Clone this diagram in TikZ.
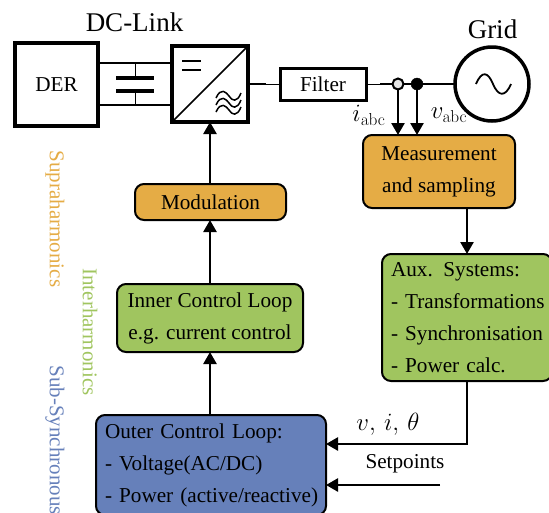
\documentclass[tikz,border=0pt]{standalone}
\usepackage[no-math]{fontspec}
\setmainfont{Liberation Serif}
\DeclareMathSizes{20}{24.88}{17.28}{12}
\usetikzlibrary{arrows.meta,calc}
\definecolor{orangebox}{HTML}{E5AC45}
\definecolor{greenbox}{HTML}{A0C55F}
\definecolor{bluebox}{HTML}{6680BA}
\tikzset{
  x=1pt,y=-1pt,
  heavybox/.style={draw,line width=#1,fill=white,inner sep=0pt,outer sep=0pt},
  block/.style={draw,line width=2pt,rounded corners=9pt,inner sep=0pt,outer sep=0pt},
  wire/.style={line width=2.3pt},
  thinwire/.style={line width=1pt},
  flow/.style={line width=2.5pt,-{Triangle[length=12pt,width=13pt]}},
  boxtext/.style={font=\fontsize{21.2}{32}\selectfont},
  plaintext/.style={font=\fontsize{21.2}{24}\selectfont},
  mathtext/.style={font=\fontsize{20}{24}\selectfont},
  sidelabel/.style={rotate=-90,font=\fontsize{21}{24}\selectfont},
}
\begin{document}
\begin{tikzpicture}
\useasboundingbox (0,0) rectangle (549,512);
\clip (0,0) rectangle (549,512);
% power stage
\node[heavybox=3.6pt,minimum width=83pt,minimum height=83pt,plaintext] (der) at (56.5,84.5) {DER};
\node[heavybox=3.4pt,minimum width=76pt,minimum height=76pt] (conv) at (210,84) {};
\node[heavybox=3pt,minimum width=86pt,minimum height=32pt,plaintext] (filter) at (323,84) {Filter};
\node[draw,circle,line width=3.5pt,minimum size=74pt,inner sep=0pt,outer sep=0pt,fill=white] (grid) at (492,84) {};
\node[font=\fontsize{27}{30}\selectfont] (dclabel) at (134.5,22) {DC-Link};
\node[font=\fontsize{27}{30}\selectfont] (gridlabel) at (492.5,29) {Grid};
% dc link
\coordinate (dctop) at (135,63);
\coordinate (dcbot) at (135,105);
\coordinate (plateA) at (135,78);
\coordinate (plateB) at (135,91);
\draw[wire] (der.east |- dctop) -- (conv.west |- dctop);
\draw[wire] (der.east |- dcbot) -- (conv.west |- dcbot);
\draw[thinwire] (dctop) -- (plateA);
\draw[thinwire] (dcbot) -- (plateB);
\draw[line width=3.5pt] ($(plateA)+(-19,0)$) -- ($(plateA)+(19,0)$);
\draw[line width=3.5pt] ($(plateB)+(-19,0)$) -- ($(plateB)+(19,0)$);
% converter symbol
\draw[line width=1.7pt] (conv.south west) -- (conv.north east);
\draw[line width=2pt] (182,61) -- (201,61);
\draw[line width=2pt] (182,70) -- (201,70);
\foreach \yy in {98,105,112}{
  \draw[line width=1.5pt] (216,\yy) .. controls (221,\yy-11) and (226,\yy-6) .. (229,\yy-2) .. controls (232,\yy+3) and (237,\yy+5) .. (241,\yy-5);
}
% ac side
\coordinate (nodeI) at (398,84);
\coordinate (nodeV) at (417,84);
\draw[wire] (conv.east) -- (266,84);
\draw[thinwire] (266,84) -- (filter.west);
\draw[thinwire] (filter.east) -- (380,84);
\draw[wire] (380,84) -- (grid.west);
\draw[line width=1.8pt] (476,84) .. controls (482,70) and (488,72) .. (493,84) .. controls (498,96) and (505,98) .. (511,84);
% blocks
\node[block,fill=orangebox,minimum width=152pt,minimum height=73pt,align=center,boxtext] (meas) at (439,171.5) {Measurement\\and sampling};
\node[block,fill=orangebox,minimum width=151pt,minimum height=36pt,boxtext] (mod) at (210.5,202) {Modulation};
\node[block,fill=greenbox,minimum width=186pt,minimum height=68pt,align=center,boxtext] (inner) at (210,318) {Inner Control Loop\\e.g. current control};
\node[block,fill=greenbox,minimum width=170pt,minimum height=127pt,align=left,boxtext,text width=152pt] (aux) at (467,317.5) {\mbox{Aux. Systems:}\\\mbox{- Transformations}\\\mbox{- Synchronisation}\\\mbox{- Power calc.}};
\node[block,fill=bluebox,minimum width=230pt,minimum height=100pt,align=left,boxtext,text width=212pt] (outer) at (211,465) {\mbox{Outer Control Loop:}\\\mbox{- Voltage(AC/DC)}\\\mbox{- Power (active/reactive)}};
% flows
\draw[flow] (mod.north -| conv.south) -- (conv.south);
\draw[flow] (inner.north) -- (mod.south -| inner.north);
\draw[flow] (outer.north -| inner.south) -- (inner.south);
\draw[flow] (meas.south -| aux.north) -- (aux.north);
\coordinate (fbk) at (467,444);
\draw[flow] (aux.south) -- (fbk) -- (outer.east |- fbk);
\coordinate (setin) at (440,485);
\draw[flow] (setin) -- (outer.east |- setin);
\draw[flow] (nodeI) -- (meas.north -| nodeI);
\draw[flow] (nodeV) -- (meas.north -| nodeV);
\node[draw,circle,line width=2pt,fill=white!90!black,minimum size=11pt,inner sep=0pt] (dotI) at (nodeI) {};
\node[draw,circle,fill=black,minimum size=12pt,inner sep=0pt] (dotV) at (nodeV) {};
% labels
\node[mathtext] (ilabel) at (369,115) {$i_{\mathrm{abc}}$};
\node[mathtext] (vlabel) at (449,115) {$v_{\mathrm{abc}}$};
\node[mathtext] (fbklabel) at (388,424) {$v,\,i,\,\theta$};
\node[plaintext] (setlabel) at (405,464) {Setpoints};
\node[sidelabel,text=orangebox] (supra) at (55,219) {Supraharmonics};
\node[sidelabel,text=greenbox] (interh) at (90,332) {Interharmonics};
\node[sidelabel,text=bluebox,anchor=west] (subs) at (55,362) {Sub-Synchronous};
\end{tikzpicture}
\end{document}
